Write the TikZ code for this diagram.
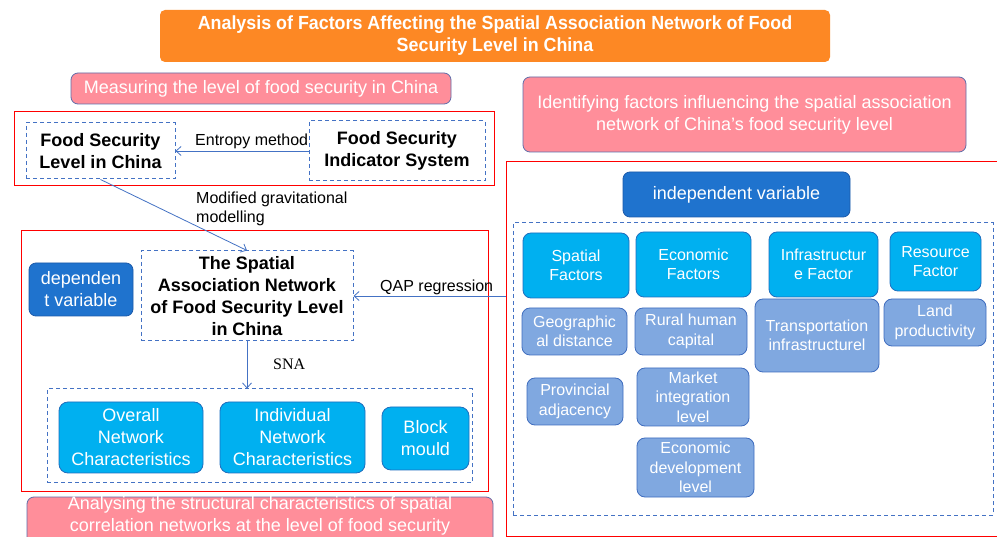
\documentclass[tikz,border=0pt]{standalone}
\usepackage{fontspec}
\setmainfont{Liberation Sans}
\newfontfamily\titlefont[FakeStretch=0.94]{Liberation Sans}
\newfontfamily\serifface{Liberation Serif}
\usetikzlibrary{arrows.meta}
\definecolor{orangeT}{RGB}{253,136,36}
\definecolor{pinkF}{RGB}{255,142,154}
\definecolor{pinkD}{RGB}{96,110,170}
\definecolor{navyF}{RGB}{31,115,206}
\definecolor{navyD}{RGB}{28,90,170}
\definecolor{cyanF}{RGB}{0,176,240}
\definecolor{cyanD}{RGB}{30,110,190}
\definecolor{lightF}{RGB}{128,168,224}
\definecolor{lightD}{RGB}{62,108,190}
\definecolor{dashC}{RGB}{68,114,196}
\definecolor{arrC}{RGB}{68,114,196}
\tikzset{
  boxat/.style n args={4}{minimum width={#3-#1}, minimum height={#4-#2}, inner sep=0pt,
    at={({(#1+#3)/2},{(#2+#4)/2})}},
  titlebox/.style={rounded corners=5pt, fill=orangeT, draw=none, text=white, align=center,
    font=\titlefont\bfseries\fontsize{19}{22}\selectfont},
  pinkbox/.style={rounded corners=7pt, fill=pinkF, draw=pinkD, line width=0.8pt, text=white,
    align=center, font=\fontsize{18}{22}\selectfont},
  frame/.style={draw=red, line width=1pt, inner sep=0pt},
  dashbox/.style={draw=dashC, dash pattern=on 4pt off 3pt, line width=1pt, align=center,
    font=\bfseries\fontsize{18}{22}\selectfont},
  dashframe/.style={draw=dashC, dash pattern=on 4pt off 3pt, line width=1pt},
  navybox/.style={rounded corners=7pt, fill=navyF, draw=navyD, line width=0.8pt, text=white,
    align=center, font=\fontsize{18}{22}\selectfont},
  cyanbig/.style={rounded corners=9pt, fill=cyanF, draw=cyanD, line width=0.8pt, text=white,
    align=center, font=\fontsize{18}{22}\selectfont},
  cyanbox/.style={rounded corners=8pt, fill=cyanF, draw=cyanD, line width=0.8pt, text=white,
    align=center, font=\fontsize{16}{19.5}\selectfont},
  lightbox/.style={rounded corners=8pt, fill=lightF, draw=lightD, line width=0.8pt, text=white,
    align=center, font=\fontsize{16}{19.5}\selectfont},
  lbl/.style={font=\fontsize{16}{19}\selectfont, inner sep=0pt},
  arr/.style={draw=arrC, line width=0.8pt, -{Straight Barb[length=5pt,width=9pt]}},
}
\begin{document}
\begin{tikzpicture}[x=1pt,y=-1pt]
\useasboundingbox (0,0) rectangle (997,537);
\fill[white] (0,0) rectangle (997,537);

% title
\node[titlebox, boxat={160}{10}{830}{62}] (title)
  {Analysis of Factors Affecting the Spatial Association Network of Food\\Security Level in China};

% ---------- left: measuring ----------
\node[pinkbox, boxat={71}{73}{451}{104}] (measure) {Measuring the level of food security in China};
\node[frame, boxat={14}{112}{494}{186}] (frameA) {};
\node[dashbox, boxat={26}{123}{175}{179}] (fsl) {Food Security\\Level in China};
\node[dashbox, boxat={309}{121}{485}{181}] (fsis) {Food Security\\Indicator System};
\draw[arr] (fsis.west) -- (fsl.east);
\node[lbl, anchor=base west] (entropy) at (195,146) {Entropy method};

% ---------- left: network ----------
\node[frame, boxat={21}{231}{488}{492}] (frameB) {};
\node[dashbox, boxat={141}{251}{353}{341}] (san)
  {The Spatial\\Association Network\\of Food Security Level\\in China};
\draw[arr] (fsl.south) -- (san.north);
\node[lbl, anchor=north west, align=left] (grav) at (196,192) {Modified gravitational\\modelling};
\node[navybox, boxat={29}{263}{133}{316}] (dep) {dependen\\t variable};

\node[dashframe, boxat={47}{389}{472}{483}] (charbox) {};
\draw[arr] (san.south) -- (san.south |- charbox.north);
\node[inner sep=0pt, anchor=base west, font=\serifface\fontsize{16}{19}\selectfont] (sna) at (273,370) {SNA};
\node[cyanbig, boxat={59}{402}{203}{473}] (overall) {Overall\\Network\\Characteristics};
\node[cyanbig, boxat={220}{402}{365}{473}] (indiv) {Individual\\Network\\Characteristics};
\node[cyanbig, boxat={382}{407}{469}{470}] (block) {Block\\mould};

% bottom banner, running past the lower edge
\node[pinkbox, boxat={27}{497}{493}{550}] (analys) {};
\node[text=white, align=center, font=\fontsize{18}{22}\selectfont, anchor=north, inner sep=0pt] (analystxt)
  at (analys.north) {Analysing the structural characteristics of spatial\\correlation networks at the level of food security};

% ---------- right side ----------
\node[pinkbox, boxat={523}{77}{966}{152}] (ident)
  {Identifying factors influencing the spatial association\\network of China's food security level};
\node[frame, boxat={506}{162}{1010}{536}] (frameC) {};
\draw[arr] (frameC.west |- san.east) -- (san.east);
\node[lbl, anchor=base west] (qap) at (380,292) {QAP regression};

\node[navybox, boxat={623}{172}{850}{217}] (indep) {independent variable};
\node[dashframe, boxat={513}{223}{993}{515}] (factbox) {};

\node[cyanbox, boxat={523}{233}{629}{298}] (spat) {Spatial\\Factors};
\node[cyanbox, boxat={636}{232}{751}{297}] (econ) {Economic\\Factors};
\node[cyanbox, boxat={769}{232}{878}{297}] (infra) {Infrastructur\\e Factor};
\node[cyanbox, boxat={890}{232}{981}{291}] (resor) {Resource\\Factor};

\node[lightbox, boxat={522}{308}{627}{355}] (geo) {Geographic\\al distance};
\node[lightbox, boxat={635}{308}{747}{355}] (rural) {Rural human\\capital};
\node[lightbox, boxat={755}{299}{879}{372}] (trans) {Transportation\\infrastructurel};
\node[lightbox, boxat={884}{299}{986}{346}] (land) {Land\\productivity};
\node[lightbox, boxat={527}{378}{623}{425}] (prov) {Provincial\\adjacency};
\node[lightbox, boxat={637}{368}{749}{426}] (market) {Market\\integration\\level};
\node[lightbox, boxat={637}{438}{754}{497}] (edev) {Economic\\development\\level};
\end{tikzpicture}
\end{document}
